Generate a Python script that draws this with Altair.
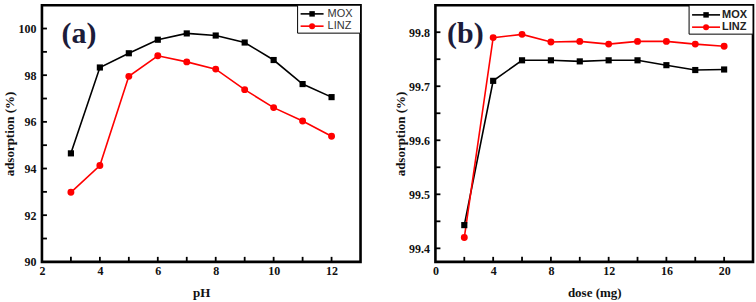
import altair as alt
import pandas as pd

# ---- data ----
ph = [3, 4, 5, 6, 7, 8, 9, 10, 11, 12]
mox_ph = [94.65, 98.33, 98.94, 99.52, 99.79, 99.70, 99.40, 98.65, 97.62, 97.06]
linz_ph = [92.98, 94.13, 97.95, 98.83, 98.57, 98.26, 97.38, 96.61, 96.04, 95.38]

dose = [2, 4, 6, 8, 10, 12, 14, 16, 18, 20]
mox_dose = [99.443, 99.710, 99.748, 99.748, 99.746, 99.748, 99.748, 99.739, 99.730, 99.731]
linz_dose = [99.420, 99.790, 99.796, 99.782, 99.783, 99.778, 99.783, 99.783, 99.778, 99.774]

series_names = ["MOX", "LINZ"]
series_colors = ["#000000", "#ff0000"]

a_xlabels = [2, 4, 6, 8, 10, 12]
a_xticks = [3, 4, 5, 6, 7, 8, 9, 10, 11, 12]
a_ylabels = [90, 92, 94, 96, 98, 100]
a_yticks = [91, 92, 93, 94, 95, 96, 97, 98, 99, 100]

b_xlabels = [0, 4, 8, 12, 16, 20]
b_xticks = [2, 4, 6, 8, 10, 12, 14, 16, 18, 20]
b_ylabels = [99.4, 99.5, 99.6, 99.7, 99.8]
b_yticks = [99.4, 99.45, 99.5, 99.55, 99.6, 99.65, 99.7, 99.75, 99.8]

SERIF = "Liberation Serif"
SANS = "Liberation Sans"


def panel(xs, mox, linz, xdom, ydom, xlabels, ylabels, xticks, yticks,
          xtitle, tag, W, H, leg, yfmt, leg_bold):
    df = pd.DataFrame({
        "x": xs + xs,
        "y": mox + linz,
        "series": ["MOX"] * len(xs) + ["LINZ"] * len(xs),
    })
    xsc = alt.Scale(domain=xdom, nice=False, zero=False)
    ysc = alt.Scale(domain=ydom, nice=False, zero=False)
    xax = alt.Axis(values=xlabels, ticks=False, domain=False, grid=False,
                   labelPadding=4, titlePadding=10, labelFlush=False)
    yax = alt.Axis(values=ylabels, ticks=False, domain=False, grid=False,
                   labelPadding=6, titlePadding=1, format=yfmt)
    X = alt.X("x:Q", scale=xsc, title=xtitle, axis=xax)
    Y = alt.Y("y:Q", scale=ysc, title="adsorption (%)", axis=yax)
    color = alt.Color("series:N", scale=alt.Scale(domain=series_names, range=series_colors),
                      legend=None)
    base = alt.Chart(df)
    lines = base.mark_line(strokeWidth=1.6).encode(x=X, y=Y, color=color)
    sq = base.transform_filter(alt.datum.series == "MOX").mark_point(
        shape="square", filled=True, size=38, opacity=1).encode(x=X, y=Y, color=color)
    ci = base.transform_filter(alt.datum.series == "LINZ").mark_point(
        shape="circle", filled=True, size=48, opacity=1).encode(x=X, y=Y, color=color)

    xt = alt.Chart(pd.DataFrame({"x": xticks})).mark_rule(color="black", strokeWidth=1.8).encode(
        x=X, y=alt.value(H), y2=alt.value(H - 5))
    yt = alt.Chart(pd.DataFrame({"y": yticks})).mark_rule(color="black", strokeWidth=1.8).encode(
        y=Y, x=alt.value(0), x2=alt.value(5))

    tagm = alt.Chart(pd.DataFrame({"t": [tag]})).mark_text(
        font=SERIF, fontSize=30, fontWeight="bold", color="#1c1c3a", align="center",
        baseline="middle").encode(text="t:N", x=alt.value(leg["tagx"]), y=alt.value(leg["tagy"]))

    lx0, lx1, ly0, ly1 = leg["box"]
    box = alt.Chart(pd.DataFrame({"k": [0]})).mark_rect(
        fill="white", stroke="black", strokeWidth=1).encode(
        x=alt.value(lx0), x2=alt.value(lx1), y=alt.value(ly0), y2=alt.value(ly1))
    layers = [lines, sq, ci, xt, yt, tagm, box]
    shapes = ["square", "circle"]
    sizes = [30, 36]
    for i, name in enumerate(series_names):
        yy = leg["ys"][i]
        d = alt.Chart(pd.DataFrame({"s": [name]}))
        layers.append(d.mark_rule(color=series_colors[i], strokeWidth=1.6).encode(
            x=alt.value(leg["l0"]), x2=alt.value(leg["l1"]), y=alt.value(yy)))
        layers.append(d.mark_point(shape=shapes[i], filled=True, size=sizes[i], opacity=1,
                                   color=series_colors[i]).encode(
            x=alt.value((leg["l0"] + leg["l1"]) / 2), y=alt.value(yy)))
        layers.append(d.mark_text(font=SANS, fontSize=11,
                                  fontWeight="bold" if leg_bold else "normal",
                                  color="#222222" if leg_bold else "#333333",
                                  align="left", baseline="middle").encode(
            text="s:N", x=alt.value(leg["tx"]), y=alt.value(yy)))
    return alt.layer(*layers).properties(width=W, height=H)


Wa, Wb, H = 319, 318, 257

pa = panel(ph, mox_ph, linz_ph, [2, 13], [90, 101], a_xlabels, a_ylabels, a_xticks, a_yticks,
           "pH", "(a)", Wa, H,
           dict(tagx=37, tagy=29, box=(256, 319, 0, 28), l0=259, l1=282, ys=[8.7, 21], tx=286),
           "d", False)
pb = panel(dose, mox_dose, linz_dose, [0, 22], [99.375, 99.85], b_xlabels, b_ylabels, b_xticks,
           b_yticks, "dose (mg)", "(b)", Wb, H,
           dict(tagx=30, tagy=29, box=(254, 318, 0, 29), l0=257, l1=285, ys=[9.7, 22], tx=287),
           ".1f", True)

chart = alt.hconcat(pa, pb, spacing=75, bounds="flush").properties(
    padding={"left": 2, "top": 3, "right": 1, "bottom": 0},
    background="white"
).configure_view(
    stroke="black", strokeWidth=2.6
).configure_axis(
    labelFont=SERIF, labelFontSize=12, labelFontWeight="bold", labelColor="#111111",
    titleFont=SERIF, titleFontSize=13, titleFontWeight="bold", titleColor="#111111"
)

chart.save("out.html", embed_options={"renderer": "svg", "actions": False})
